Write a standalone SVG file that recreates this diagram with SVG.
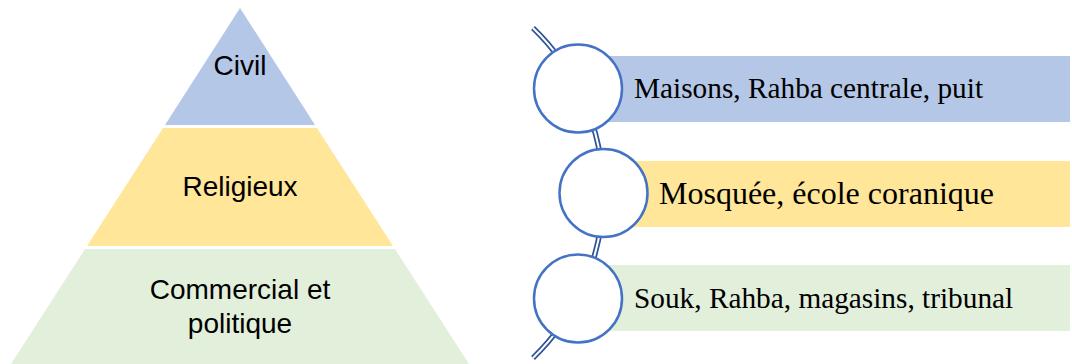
<svg xmlns="http://www.w3.org/2000/svg" width="1072" height="364" viewBox="0 0 1072 364">
<style>
.sans{font-family:"Liberation Sans",Arial,sans-serif;font-size:28px;fill:#000;text-anchor:middle}
.serif{font-family:"Liberation Serif","Times New Roman",serif;font-size:29.3px;fill:#000}
.blue{fill:#B4C7E7}
.yellow{fill:#FFE699}
.green{fill:#E2EFDA}
.ring{fill:#fff;stroke:#4472C4;stroke-width:2.5}
</style>
<rect width="1072" height="364" fill="#fff"/>
<g id="tier-civil">
<polygon class="blue" points="240,8 315,125 165,125"/>
<text class="sans" x="240" y="75">Civil</text>
</g>
<g id="tier-religieux">
<polygon class="yellow" points="163,128 317,128 393,246 87,246"/>
<text class="sans" x="240" y="196">Religieux</text>
</g>
<g id="tier-commercial">
<polygon class="green" points="85,249 395,249 469,364 11,364"/>
<text class="sans" x="240" y="299">Commercial et</text>
<text class="sans" x="240" y="333">politique</text>
</g>
<g id="bars">
<rect id="bar-1" class="blue" x="578" y="56" width="492" height="66"/>
<rect id="bar-2" class="yellow" x="603" y="161" width="467" height="66"/>
<rect id="bar-3" class="green" x="578" y="265" width="492" height="66"/>
</g>
<g id="connectors">
<path d="M 533 28 A 229 229 0 0 1 533 358" fill="none" stroke="#2F5597" stroke-width="5.5"/>
<path d="M 533 28 A 229 229 0 0 1 533 358" fill="none" stroke="#fff" stroke-width="2"/>
</g>
<g id="item-1">
<circle class="ring" cx="578" cy="88.5" r="44"/>
<text class="serif" x="634" y="98">Maisons, Rahba centrale, puit</text>
</g>
<g id="item-2">
<circle class="ring" cx="603.5" cy="193" r="44"/>
<text class="serif" x="659" y="203.5" style="font-size:32px">Mosquée, école coranique</text>
</g>
<g id="item-3">
<circle class="ring" cx="578" cy="298.5" r="44"/>
<text class="serif" x="634" y="308">Souk, Rahba, magasins, tribunal</text>
</g>
</svg>
